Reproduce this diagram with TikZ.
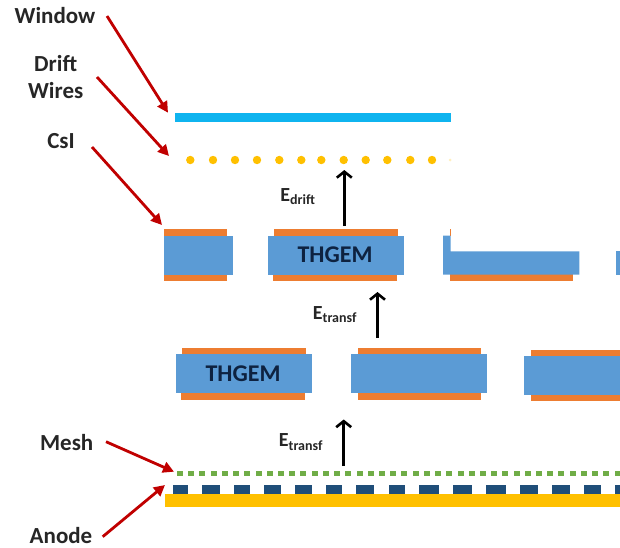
\documentclass[tikz,border=0pt]{standalone}
\usepackage{fontspec}
\setmainfont{Carlito}
\usetikzlibrary{arrows.meta}
\definecolor{thblue}{HTML}{5B9BD5}
\definecolor{thorange}{HTML}{ED7D31}
\definecolor{wincyan}{HTML}{0FB4EF}
\definecolor{wiregold}{HTML}{FFC000}
\definecolor{meshgreen}{HTML}{70AD47}
\definecolor{padnavy}{HTML}{1F4E79}
\definecolor{leadred}{HTML}{C00000}
\definecolor{txtdark}{HTML}{262626}
\definecolor{thtxt}{HTML}{0E2240}
\tikzset{
  x=1pt,y=-1pt,
  lab/.style={font=\bfseries\fontsize{23}{25}\selectfont,text=txtdark,inner sep=0pt},
  fieldlab/.style={font=\bfseries\fontsize{20}{22}\selectfont,text=txtdark,inner sep=0pt},
  thlab/.style={font=\bfseries\fontsize{24}{26}\selectfont,text=thtxt,inner sep=0pt},
  lead/.style={draw=leadred,line width=2.8pt,-{Triangle[length=11pt,width=11pt]}},
  field/.style={draw=black,line width=2.8pt,-{Straight Barb[length=6pt,width=15pt,line width=2.6pt]}},
  bluefill/.style={fill=thblue},
  orangefill/.style={fill=thorange},
}
\begin{document}
\begin{tikzpicture}
\useasboundingbox (0,0) rectangle (620,547);
% window
\fill[wincyan] (175,112.7) rectangle (450.7,121.7);
% drift wires
\foreach \x in {190.3,213,235,257,279.3,301.3,321.3,343.7,365.7,387.3,410.3,432}
  \fill[wiregold] (\x,160) circle (4.2);
\fill[wiregold!25] (450,160) circle (1.5);
% upper THGEM row
\fill[orangefill] (164,229.3) rectangle (226.7,236.7);
\fill[orangefill] (164,274) rectangle (226.7,281.3);
\fill[bluefill] (164,235.7) rectangle (233.3,274.7);
\fill[orangefill] (274.3,229.3) rectangle (398,236.7);
\fill[orangefill] (273,274) rectangle (397,281.3);
\fill[bluefill] (268.3,235.7) rectangle (403.7,274.7);
\fill[orangefill] (449.7,229.3) rectangle (450.7,236);
\fill[orangefill] (449.7,274) rectangle (572.7,281.3);
\fill[bluefill] (443,235.7) -- (450.7,235.7) -- (450.7,251.3) -- (579.3,251.3) -- (579.3,274.7) -- (443,274.7) -- cycle;
\fill[bluefill] (616,251.3) rectangle (620,274.7);
% lower THGEM row
\fill[orangefill] (182,348) rectangle (306,355);
\fill[orangefill] (180.7,392.7) rectangle (305.3,400);
\fill[bluefill] (176,354.3) rectangle (311.7,393.3);
\fill[orangefill] (357.7,348) rectangle (480.7,355);
\fill[orangefill] (357.7,392.7) rectangle (480.7,400);
\fill[bluefill] (351,354.3) rectangle (487,393.3);
\fill[orangefill] (530.7,349.7) rectangle (620,356.6);
\fill[orangefill] (530.7,394) rectangle (620,401.3);
\fill[bluefill] (524,356) rectangle (620,394.7);
% mesh
\foreach \i in {0,...,39}
  \fill[meshgreen] ({180+11.22*\i-3},470.8) rectangle ({180+11.22*\i+3},475.8);
% pads
\foreach \a/\b in {100/143,185/239,281/331,373/423,465/516,557/607,649/703,746/796,838/896,938/997,1039/1097,1140/1193,1236/1290,1332/1382,1425/1440}
  \fill[padnavy] ({140+\a/3},484.7) rectangle ({140+\b/3},493.7);
% anode
\fill[wiregold] (165,493.7) rectangle (620,506.7);
% labels
\node[lab] (window) at (55,16) {Window};
\node[lab] (drift) at (55.7,64) {Drift};
\node[lab] (wires) at (55.7,90.5) {Wires};
\node[lab] (csi) at (61,141.5) {CsI};
\node[lab] (mesh) at (66.7,442.5) {Mesh};
\node[lab] (anode) at (61,536) {Anode};
\node[thlab] (th1) at (335,255) {THGEM};
\node[thlab] (th2) at (243,373.5) {THGEM};
\node[fieldlab] (edrift) at (298,197) {E\textsubscript{drift}};
\node[fieldlab] (etr1) at (335,314.5) {E\textsubscript{transf}};
\node[fieldlab] (etr2) at (301,442) {E\textsubscript{transf}};
% connector ends
\coordinate (wa) at (107,16); \coordinate (wb) at (168,112.7);
\coordinate (da) at (97,77); \coordinate (db) at (169,156);
\coordinate (ca) at (92,147); \coordinate (cb) at (162,225);
\coordinate (ma) at (106,441.7); \coordinate (mb) at (174,471.7);
\coordinate (aa) at (102.7,536.7); \coordinate (ab) at (165,485);
\coordinate (f1a) at (344.3,226); \coordinate (f1b) at (344.3,170);
\coordinate (f2a) at (377.5,338); \coordinate (f2b) at (377.5,292);
\coordinate (f3a) at (343.7,466); \coordinate (f3b) at (343.7,419.5);
% connectors
\draw[lead] (wa) -- (wb);
\draw[lead] (da) -- (db);
\draw[lead] (ca) -- (cb);
\draw[lead] (ma) -- (mb);
\draw[lead] (aa) -- (ab);
\draw[field] (f1a) -- (f1b);
\draw[field] (f2a) -- (f2b);
\draw[field] (f3a) -- (f3b);
\end{tikzpicture}
\end{document}
